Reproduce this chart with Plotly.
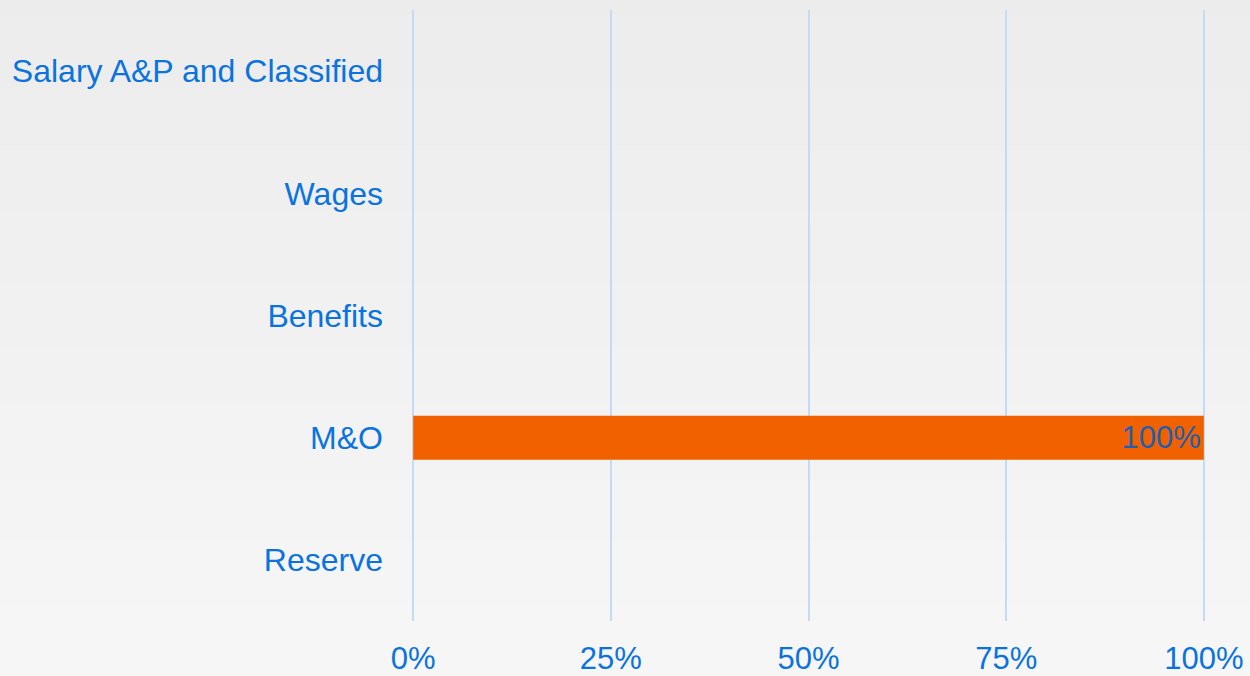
import plotly.graph_objects as go

categories = ["Salary A&P and Classified", "Wages", "Benefits", "M&O", "Reserve"]
shares = [0, 0, 0, 1.0, 0]
tick_vals = [0, 0.25, 0.5, 0.75, 1.0]
tick_text = ["0%", "25%", "50%", "75%", "100%"]

labels = [f"{v:.0%}" if v else "" for v in shares]

FONT = "Liberation Sans, Arial, sans-serif"
BLUE = "#0a73e0"

fig = go.Figure(go.Bar(
    y=categories,
    x=shares,
    orientation="h",
    marker=dict(color="#f26100", line=dict(width=0)),
    text=labels,
    textposition="inside",
    insidetextanchor="end",
    textfont=dict(family=FONT, size=31, color="#1f5fb0"),
    cliponaxis=False,
))

# vertical gradient background
n = 60
top = (236, 236, 236)
bot = (247, 247, 247)
shapes = []
for i in range(n):
    t = i / (n - 1)
    c = tuple(round(top[k] + (bot[k] - top[k]) * t) for k in range(3))
    shapes.append(dict(type="rect", xref="paper", yref="paper",
                       x0=-1, x1=2, y0=1.05 - (i + 1) * 1.2 / n, y1=1.05 - i * 1.2 / n + 0.001,
                       fillcolor=f"rgb{c}", line=dict(width=0), layer="below"))

fig.update_layout(
    width=1250, height=676,
    margin=dict(l=412, r=45, t=10, b=55, autoexpand=False),
    paper_bgcolor="#f1f1f1",
    plot_bgcolor="rgba(0,0,0,0)",
    bargap=0.64,
    showlegend=False,
    shapes=shapes,
    font=dict(family=FONT, size=31, color=BLUE),
)
fig.update_xaxes(
    range=[-0.0015, 1.0015], tickvals=tick_vals, ticktext=tick_text,
    showgrid=True, gridcolor="#c3dbf5", gridwidth=2,
    zeroline=False, showline=False, ticks="",
    ticklabelstandoff=16, automargin=False,
    tickfont=dict(family=FONT, size=31, color=BLUE),
)
fig.update_yaxes(
    categoryorder="array", categoryarray=categories[::-1],
    showgrid=False, zeroline=False, showline=False, ticks="",
    ticklabelstandoff=28, automargin=False,
    tickfont=dict(family=FONT, size=32, color=BLUE),
)

fig.write_html("out.html")
